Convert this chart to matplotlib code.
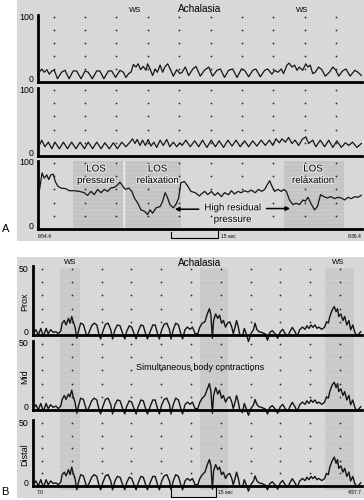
import matplotlib.pyplot as plt
import matplotlib.patheffects as pe
from matplotlib.lines import Line2D
from matplotlib.patches import Rectangle
from matplotlib.transforms import blended_transform_factory

plt.rcParams['font.family'] = ['Liberation Sans', 'DejaVu Sans']

# ---------------- Panel A: LOS / body pressures [mmHg] vs time [s] ----------------
a1_t = [0.4, 1.2, 2.0, 2.8, 3.6, 4.4, 5.2, 6.2, 7.5, 8.6,
        9.9, 11.2, 12.3, 13.7, 15.0, 16.0, 17.3, 18.7, 19.7, 21.0,
        22.4, 23.5, 24.7, 26.1, 27.2, 28.0, 28.9, 29.6, 30.4, 31.2,
        31.9, 32.7, 33.5, 34.4, 34.9, 35.7, 36.5, 37.3, 38.0, 38.9,
        39.7, 40.4, 41.3, 42.3, 43.1, 44.2, 45.2,
        45.9, 46.9, 48.0, 49.3, 50.3, 51.7, 53.0, 54.4, 55.6, 57.0,
        58.1, 59.4, 60.7, 62.0, 63.4, 64.8, 65.8, 67.1, 68.4, 69.4,
        70.8, 72.2, 73.2, 74.5, 75.4, 76.4, 77.5, 78.2, 79.3, 80.0,
        80.9, 81.7, 82.5, 83.2, 84.3, 85.3, 86.0, 86.7, 87.5, 88.3,
        89.4, 90.4, 91.5, 92.8, 93.9, 94.9, 95.8, 97.0, 98.1, 99.4,
        100.9, 101.9, 103.0]
a1_p = [15, 20, 15, 19, 12, 17, 18, 5, 15, 18,
        5, 17, 17, 5, 17, 15, 5, 17, 17, 5,
        17, 17, 7, 18, 15, 7, 13, 15, 27, 23,
        28, 19, 24, 18, 28, 20, 10, 20, 15, 26,
        15, 23, 28, 18, 9, 19, 13,
        15, 23, 10, 20, 24, 9, 18, 23, 9, 18,
        20, 7, 18, 20, 7, 20, 18, 8, 18, 20,
        8, 18, 20, 12, 18, 15, 20, 13, 26, 29,
        23, 26, 18, 23, 18, 28, 23, 26, 13, 15,
        23, 19, 9, 15, 23, 18, 9, 17, 20, 9,
        18, 15, 10]

a2_t = [0.4, 1.2, 2.2, 3.3, 4.4, 5.4, 6.8, 8.1, 9.4, 10.7,
        12.1, 13.4, 14.8, 16.0, 17.4, 18.7, 20.1, 21.3, 22.7, 24.0,
        25.3, 26.7, 28.0, 29.3, 30.1, 30.9, 31.6, 32.5, 33.3, 34.2,
        35.1, 36.0, 36.9, 37.8, 38.9, 39.9, 41.0, 42.0, 43.1, 44.2,
        45.2,
        45.9, 47.1, 48.5, 49.9, 51.2, 52.4, 53.8, 55.2, 56.5, 57.7,
        59.1, 60.5, 61.8, 63.1, 64.4, 65.8, 67.1, 68.4, 69.7, 71.1,
        72.4, 73.7, 74.8, 75.8, 76.9, 77.7, 78.8, 79.8, 80.9, 81.9,
        83.0, 84.3, 85.3, 86.2, 87.5, 88.5, 89.9, 91.3, 92.6, 93.9,
        95.2, 96.6, 97.9, 99.0, 100.2, 101.6, 103.0]
a2_p = [16, 24, 14, 21, 11, 21, 11, 21, 11, 21,
        11, 21, 11, 21, 11, 21, 11, 20, 11, 20,
        11, 21, 14, 21, 26, 19, 25, 16, 24, 16,
        25, 15, 21, 13, 24, 16, 25, 14, 21, 14,
        20,
        16, 24, 14, 23, 14, 24, 13, 24, 14, 23,
        13, 24, 15, 24, 14, 23, 14, 23, 15, 24,
        16, 24, 16, 26, 20, 26, 21, 28, 19, 24,
        16, 26, 29, 19, 24, 14, 24, 14, 24, 13,
        23, 13, 20, 16, 21, 13, 19]

a3_t = [0.4, 1.3, 2.0, 2.8, 3.4, 4.1, 4.9, 5.5, 6.3, 7.3,
        8.9, 10.0, 11.6, 13.2, 14.7, 15.8, 16.9, 17.9, 19.0, 20.1,
        21.1, 22.2, 23.2, 24.3, 25.4, 26.1, 27.0, 27.8, 28.9, 29.9,
        30.7, 31.8, 32.8, 33.9, 34.9, 35.7, 36.5, 37.6, 38.9, 39.7,
        40.5, 41.3, 42.0, 43.1, 43.9, 44.8, 45.5, 46.6, 47.7, 48.7,
        50.1, 51.4,
        52.0, 53.1, 54.1, 55.2, 56.3, 57.3, 58.4, 59.4, 60.7, 61.6,
        62.6, 63.7, 64.7, 65.8, 66.9, 67.9, 69.2, 70.2, 71.3, 72.2,
        73.0, 73.8, 74.5, 75.4, 76.4, 77.5, 78.3, 79.1, 80.1, 81.2,
        82.2, 83.3, 84.4, 85.1, 86.0, 87.1, 88.1, 89.0, 90.0, 91.1,
        92.1, 93.2, 94.5, 95.5, 96.6, 97.7, 98.7, 99.8, 100.9, 101.9,
        103.0]
a3_p = [57, 85, 77, 82, 75, 82, 83, 72, 65, 62,
        61, 58, 58, 57, 55, 51, 57, 52, 60, 55,
        60, 57, 62, 63, 67, 71, 65, 60, 62, 57,
        47, 39, 29, 27, 22, 29, 24, 32, 34, 42,
        55, 47, 37, 32, 37, 47, 70, 72, 65, 57,
        55, 50,
        53, 57, 52, 57, 51, 55, 49, 55, 52, 58,
        53, 57, 55, 58, 56, 59, 55, 60, 57, 60,
        67, 73, 65, 57, 60, 57, 60, 57, 44, 37,
        39, 37, 44, 42, 48, 37, 29, 34, 52, 49,
        47, 49, 46, 48, 47, 44, 48, 46, 49, 48,
        51]

a_los_spans = [(11.1, 27.1), (27.8, 45.5), (78.3, 97.6)]
a_ws_times = [30.9, 84.1]
a_grid_t = [5, 15, 25, 35, 45, 55, 65, 75, 85, 95]
a_grid_p = [20, 40, 60, 80, 100]

# ---------------- Panel B: esophageal body pressures [mmHg] ----------------
b_t = [0.1, 1.0, 1.8, 2.6, 3.5, 4.4, 5.1, 5.9, 6.8, 7.7,
       8.5, 9.3, 9.8, 10.5, 11.1, 11.9, 12.4, 13.0, 13.5, 14.1,
       14.7, 15.2, 16.0, 16.9, 17.8, 18.2, 18.9, 19.7, 20.5, 21.4,
       22.2, 22.7, 23.4, 24.3, 25.2, 26.1, 26.7, 27.5, 28.3, 29.2,
       30.1, 30.8, 31.4, 32.3, 33.1, 33.9, 34.6, 35.3, 36.2, 37.0,
       37.8, 38.4, 39.3, 40.2, 41.0, 41.8, 42.4, 43.2, 44.0, 44.9,
       45.8, 46.3, 47.1, 47.9, 48.8, 49.6, 50.2, 51.0, 51.8, 52.7,
       53.5, 54.4,
       55.3, 56.0, 56.8, 57.7, 58.5, 59.2, 59.7, 60.2, 60.6, 61.3,
       62.0, 62.6, 63.3, 63.9, 64.6, 65.3, 66.0, 66.7, 67.2, 67.8,
       68.3, 68.9, 69.4, 70.3, 70.9, 71.7, 72.3, 73.1, 74.0, 74.5,
       75.1, 75.8, 76.7, 77.9, 78.7, 79.5, 80.3, 81.2, 82.1, 83.0,
       83.8, 84.6, 85.5, 86.2, 87.0, 87.9, 88.6, 89.5, 90.4, 91.3,
       91.9, 92.6, 93.3, 93.9, 94.6, 95.3, 95.9, 96.9, 97.8, 98.5,
       99.1, 99.6, 100.4, 101.1, 101.7, 102.2, 102.6, 103.3, 104.0, 104.6,
       105.3, 106.0, 106.6, 107.3, 108.0, 108.7, 109.4, 110.0]
prox_p = [1, 4, 0, 5, -1, 5, 1, 4, 2, 2.5,
          1, 3, 9, 11, 7.6, 12.6, 9, 14, 10, 6,
          -2.5, 2.5, 9, 8, 1, -1, 2.5, 7, 9, 7.6,
          0, -3, 2.5, 8, 9, 4, -3, 4, 7.6, 7,
          1, -3, 2.5, 7, 6, 1, -3, 2.5, 7.6, 7,
          1, -3, 2.5, 7.6, 7.6, 1, -3, 4, 8, 9,
          4, -3, 4.3, 9, 7.6, 1, -3, 4, 6, 4.3,
          6, 1,
          1, 6, 9, 10, 16, 20, 15, -2.5, 11, 16,
          12.6, 15, 9, 11, 6, 9, 10, 6, 1, 6,
          11, 6, 0, -1, 5, 0, -5, 1, 4, 9,
          4.3, 2.5, 2, 0.8, -4, 2, 3.3, 1, -2.5, 2.5,
          4.3, 1, -1, 2.5, 5.8, 2.5, -1, 4, 6, 4.3,
          7, 5, 7.6, 5.8, 7.6, 5, 6, 4.3, 5.8, 10,
          9, 14, 19, 21.5, 17.7, 20, 14, 16, 11, 14,
          7.6, 11, 4, 7.6, 2, -1, 1, 2.5]
mid_p = [1, 4, 0, 5, -1, 5, 1, 4, 2, 3,
         1, 3, 8, 11, 8, 12, 10, 15, 10, 6,
         -2.5, 2.5, 9, 8, 1, -1, 2.5, 7, 9, 7.6,
         0, -3, 2.5, 8, 9, 4, -3, 4, 7.6, 7,
         1, -3, 2.5, 7, 6, 1, -3, 2.5, 7.6, 7,
         1, -3, 2.5, 7.6, 7.6, 1, -3, 4, 8, 9,
         4, -3, 4.3, 9, 7.6, 1, -3, 4, 6, 4.3,
         6, 1,
         1, 6, 9, 11, 16, 20, 14, -2.5, 11, 17,
         12, 15, 9, 11, 6, 9, 10, 6, 1, 6,
         11, 6, 0, -2, 5, 0, -4, 1, 4, 8,
         4.3, 2.5, 2, 0.8, -3, 2, 3.3, 1, -2.5, 2.5,
         4.3, 1, -1, 2.5, 5.8, 2.5, -1, 4, 6, 4.3,
         7, 5, 7.6, 5.8, 7.6, 5, 6, 4.3, 5.8, 10,
         9, 14, 19, 21, 17, 20, 14, 16, 11, 14,
         7.6, 11, 4, 7.6, 2, -1, 1, 2.5]
distal_p = [1, 4, 0, 5, -1, 5, 1, 4, 2, 2.5,
            1, 3, 9, 11, 8, 13, 9, 15, 10, 6,
            -3, 2.5, 9, 8, 1, -1, 2.5, 7, 9, 7.6,
            0, -3, 2.5, 8, 9, 4, -3, 4, 7.6, 7,
            1, -3, 2.5, 7, 6, 1, -3, 2.5, 7.6, 7,
            1, -3, 2.5, 7.6, 7.6, 1, -3, 4, 8, 9,
            4, -3, 4.3, 9, 7.6, 1, -3, 4, 6, 4.3,
            6, 1,
            1, 6, 9, 11, 17, 21, 16, -2.5, 12, 17,
            13, 15, 9, 11, 6, 9, 10, 6, 1, 6,
            11, 6, 0, -1, 5, 0, -4, 1, 4, 8,
            4.3, 2.5, 2, 0.8, -3, 2, 3.3, 1, -2.5, 2.5,
            4.3, 1, -1, 2.5, 5.8, 2.5, -1, 4, 6, 4.3,
            7, 5, 7.6, 5.8, 7.6, 5, 6, 4.3, 5.8, 10,
            9, 15, 20, 23, 18, 21, 14, 16, 11, 14,
            7.6, 11, 4, 7.6, 2, -1, 1, 2.5]

b_ws_spans = [(9.2, 15.8), (56.0, 65.6), (98.0, 107.7)]
b_ws_times = [12.4, 102.3]
b_grid_t = [3, 13, 23, 33, 43, 53, 63, 73, 83, 93, 103]
b_grid_p = [10, 20, 30, 40, 50]
b_labels = ['Prox', 'Mid', 'Distal']

# ---------------- layout helpers (pixel -> figure fraction) ----------------
W, H = 364, 500
BG = '#d8d8d8'
SHADE = '#c4c4c4'
STRIPE = '#cecece'
INK = '#151515'


def fx(px):
    return px / W


def fy(py):
    return 1 - py / H


fig = plt.figure(figsize=(W / 100, H / 100), dpi=100)
plt.rcParams['hatch.linewidth'] = 0.6

for top, bottom in [(0, 241), (257, 498)]:
    fig.add_artist(Rectangle((fx(17), fy(bottom)), 1 - fx(17), (bottom - top) / H,
                             transform=fig.transFigure, facecolor=BG,
                             edgecolor='none', zorder=-3))


def trace_axes(x0, x1, py0, scale, ylo, yhi, xmax, ytop):
    """ Axes whose zero sits at pixel row py0, `scale` px per mmHg. """
    bottom = py0 - ylo * scale
    top = py0 - yhi * scale
    ax = fig.add_axes([fx(x0), fy(bottom), fx(x1) - fx(x0), (bottom - top) / H])
    ax.set_xlim(0, xmax)
    ax.set_ylim(ylo, yhi)
    ax.patch.set_visible(False)
    for side in ['top', 'right', 'bottom']:
        ax.spines[side].set_visible(False)
    ax.spines['left'].set_linewidth(2)
    ax.spines['left'].set_bounds(0, yhi)
    ax.set_xticks([])
    ax.set_yticks([])
    ax.axhline(0, color='black', lw=2, clip_on=False, zorder=4)

    # Range labels just left of the axis, "0" sitting a touch above baseline.
    lab = dict(xycoords=('axes fraction', 'data'), textcoords='offset points',
               ha='right', va='center', fontsize=6.3)
    ax.annotate(str(ytop), xy=(0, ytop), xytext=(-3.2, 0), **lab)
    ax.annotate('0', xy=(0, 0), xytext=(-3.2, 1.8), **lab)
    return ax


def dot_grid(ax, cols, rows):
    xs = [c for c in cols for r in rows]
    ys = [r for c in cols for r in rows]
    ax.scatter(xs, ys, s=1.6, color='#2a2a2a', linewidths=0, zorder=2)


# ---------------- Panel A ----------------
A_XMAX = 103.2
ax_a1 = trace_axes(38, 362, 82, 0.65, 0, 103, A_XMAX, 100)
ax_a2 = trace_axes(38, 362, 156, 0.66, 0, 103, A_XMAX, 100)
ax_a3 = trace_axes(38, 362, 229, 0.66, 0, 103, A_XMAX, 100)

for ax, t, p in [(ax_a1, a1_t, a1_p), (ax_a2, a2_t, a2_p), (ax_a3, a3_t, a3_p)]:
    dot_grid(ax, a_grid_t, a_grid_p)
    ax.plot(t, p, color=INK, lw=0.9, zorder=3)

for t0, t1 in a_los_spans:
    ax_a3.axvspan(t0, t1, ymin=0, ymax=1, facecolor=SHADE, edgecolor=STRIPE,
                  hatch='----', lw=0, zorder=0)
ax_a3.axvline(a_los_spans[0][1] + 0.35, color='#ececec', lw=1.0, zorder=1)

halo = [pe.withStroke(linewidth=1.6, foreground='#e6e6e6')]
txt = dict(fontsize=7, ha='center', va='center', linespacing=1.2,
           path_effects=halo, zorder=5)
ax_a3.text(18.5, 83, 'LOS\npressure', **txt)
ax_a3.text(38.1, 83, 'LOS\nrelaxation', **txt)
ax_a3.text(87.6, 83, 'LOS\nrelaxation', **txt)
ax_a3.text(62.0, 24, 'High residual\npressure', **txt)
arrow = dict(arrowstyle='-|>', color='black', lw=1.1, mutation_scale=6,
             shrinkA=0, shrinkB=0)
ax_a3.annotate('', xy=(43.6, 30), xytext=(51.2, 30), arrowprops=arrow)
ax_a3.annotate('', xy=(80.3, 31), xytext=(72.8, 31), arrowprops=arrow)

top_a = blended_transform_factory(ax_a1.transData, fig.transFigure)
for t in a_ws_times:
    ax_a1.text(t, fy(10), 'WS', transform=top_a, fontsize=5.5, ha='center', va='center')
fig.text(fx(200), fy(8.5), 'Achalasia', fontsize=7.2, ha='center', va='center')
fig.text(fx(6), fy(229), 'A', fontsize=8, ha='center', va='center')

bar_a = blended_transform_factory(ax_a3.transData, fig.transFigure)
ax_a3.add_line(Line2D([42.4, 42.4, 57.4, 57.4], [fy(232), fy(238), fy(238), fy(230)],
                      transform=bar_a, color='black', lw=0.8, clip_on=False))
ax_a3.text(58.3, fy(236), '15 sec', transform=bar_a, fontsize=3.6, ha='left', va='center')
fig.text(fx(38), fy(236.5), '6:54.4', fontsize=3.6, ha='left', va='center')
fig.text(fx(362), fy(236.5), '8:36.4', fontsize=3.6, ha='right', va='center')

# ---------------- Panel B ----------------
B_XMAX = 110.4
ax_b1 = trace_axes(33, 362, 335, 1.32, -6, 52, B_XMAX, 50)
ax_b2 = trace_axes(33, 362, 410, 1.32, -6, 52, B_XMAX, 50)
ax_b3 = trace_axes(33, 362, 486, 1.26, -6, 52, B_XMAX, 50)
b_axes = [ax_b1, ax_b2, ax_b3]

band = blended_transform_factory(ax_b3.transData, fig.transFigure)
for t0, t1 in b_ws_spans:
    fig.add_artist(Rectangle((t0, fy(490)), t1 - t0, (490 - 268) / H, transform=band,
                             facecolor='#c9c9c9', edgecolor='#d1d1d1', hatch='---',
                             lw=0, zorder=-2))

for ax, p, lab in zip(b_axes, [prox_p, mid_p, distal_p], b_labels):
    dot_grid(ax, b_grid_t, b_grid_p)
    ax.plot(b_t, p, color=INK, lw=1.0, zorder=3)
    bb = ax.get_position()
    mid = bb.y0 + (bb.y1 - bb.y0) * (6 + 25) / 58
    fig.text(fx(24.5), mid, lab, rotation=90, fontsize=6.5, ha='center', va='center')

ax_b2.text(56.2, 32, 'Simultaneous body contractions', fontsize=6.5,
           ha='center', va='center', zorder=5)

top_b = blended_transform_factory(ax_b1.transData, fig.transFigure)
for t in b_ws_times:
    ax_b1.text(t, fy(263), 'WS', transform=top_b, fontsize=5.5, ha='center', va='center')
fig.text(fx(200), fy(263), 'Achalasia', fontsize=7.2, ha='center', va='center')
fig.text(fx(5), fy(492), 'B', fontsize=8, ha='center', va='center')

bar_b = blended_transform_factory(ax_b3.transData, fig.transFigure)
ax_b3.add_line(Line2D([46.3, 46.3, 61.3, 61.3], [fy(490), fy(497), fy(497), fy(486)],
                      transform=bar_b, color='black', lw=0.8, clip_on=False))
ax_b3.text(62.0, fy(492), '15 sec', transform=bar_b, fontsize=3.6, ha='left', va='center')
fig.text(fx(37), fy(492.5), '7.0', fontsize=3.6, ha='left', va='center')
fig.text(fx(362), fy(492), '4:57.7', fontsize=3.6, ha='right', va='center')

fig.savefig('out.png', dpi=100)
